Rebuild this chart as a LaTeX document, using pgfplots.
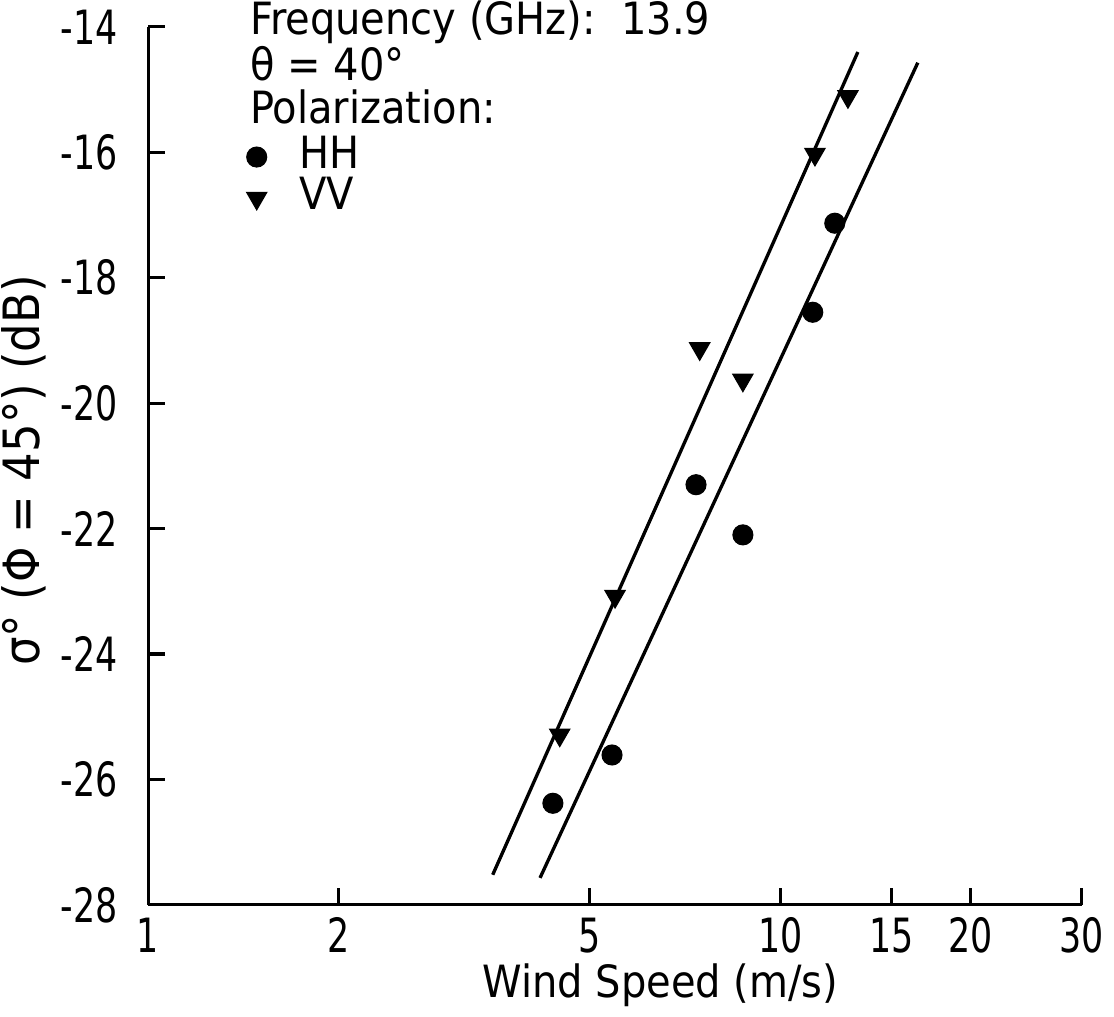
\documentclass[border=0pt]{standalone}
\usepackage{fontspec}
\setmainfont{DejaVu Sans Condensed}
\newfontfamily\tickfont{DejaVu Sans Condensed}[FakeStretch=0.82]
\usepackage{pgfplots}
\pgfplotsset{compat=1.18}
\begin{document}
\fontsize{16}{15.3}\selectfont
\begin{tikzpicture}
\begin{axis}[
  at={(0pt,0pt)}, anchor=south west,
  scale only axis, width=336.2pt, height=316.1pt,
  xmode=log, xmin=1, xmax=30, ymin=-28, ymax=-14,
  axis x line*=bottom, axis y line*=left,
  xtick={1,2,5,10,15,20,30}, xticklabels={1,2,5,10,15,20,30},
  xminorticks=false,
  ytick={-28,-26,-24,-22,-20,-18,-16,-14},
  tick align=inside,
  major tick length=6pt,
  axis line style={line width=1.1pt},
  every tick/.style={line width=1.1pt, black},
  /pgf/number format/assume math mode=true,
  ticklabel style={font=\tickfont\fontsize{17}{17}\selectfont},
  yticklabel style={anchor=east, inner sep=0pt, xshift=-10.8pt},
  xticklabel style={anchor=north, inner sep=0pt, yshift=-4.5pt},
  xlabel={Wind Speed (m/s)},
  ylabel={σ° (Φ = 45°) (dB)},
  every axis x label/.style={at={(axis description cs:0.549,-0.091)}, anchor=center, font=\fontsize{16}{16}\selectfont},
  every axis y label/.style={at={(axis description cs:-0.133,0.495)}, rotate=90, anchor=center, font=\fontsize{18}{18}\selectfont},
  legend style={at={(axis description cs:0.105,0.873)}, anchor=north west, draw=none, fill=none, inner sep=0pt,
    font=\fontsize{16}{16}\selectfont, row sep=1.8pt,
    nodes={inner sep=0pt, text height=10.5pt, text depth=2.5pt}},
  legend cell align=left,
  clip=false,
]
\addplot[only marks, mark=*, mark size=3.6pt, black] coordinates {
  (4.37,-26.38) (5.42,-25.61) (7.36,-21.30) (8.73,-22.10) (11.26,-18.55) (12.2,-17.13)
};
\addlegendentry{\hspace{11.6pt}HH}
\addplot[only marks, mark=triangle*, mark size=4.2pt, mark options={rotate=180}, black] coordinates {
  (4.48,-25.29) (5.48,-23.08) (7.46,-19.13) (8.73,-19.63) (11.35,-16.03) (12.8,-15.11)
};
\addlegendentry{\hspace{11.6pt}VV}
\addplot[black, line width=1.2pt, forget plot] coordinates {(3.51,-27.52) (13.27,-14.40)};
\addplot[black, line width=1.2pt, forget plot] coordinates {(4.17,-27.57) (16.51,-14.57)};
\node[anchor=north west, align=left, inner sep=0pt, font=\fontsize{16}{15.3}\selectfont] at (axis description cs:0.109,1.03) {Frequency (GHz):\ \ 13.9\\θ = 40°\\Polarization:};
\end{axis}
\pgfresetboundingbox
\path (-53.3pt,-40.3pt) rectangle (347.8pt,325.8pt);
\end{tikzpicture}
\end{document}
